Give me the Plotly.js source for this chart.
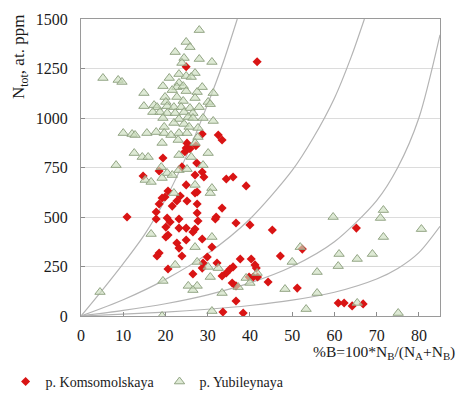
<!DOCTYPE html>
<html><head><meta charset="utf-8">
<script src="https://cdn.plot.ly/plotly-3.0.1.min.js"></script>
<style>html,body{margin:0;padding:0;background:#fff}#chart{width:460px;height:394px}</style>
</head><body><div id="chart"></div>
<script>
// Reference curves
const curve1B = [0, 5, 10, 15, 20, 25, 30, 33.5, 37];
const curve1N = [0, 130, 265, 410, 590, 810, 1070, 1270, 1500];
const curve2B = [0, 10, 20, 30, 40, 50, 55, 60, 64, 67.1];
const curve2N = [0, 82, 185, 315, 490, 735, 900, 1100, 1310, 1500];
const curve3B = [0, 10, 20, 30, 40, 50, 60, 70, 75, 80, 85];
const curve3N = [0, 28, 62, 107, 167, 250, 375, 583, 750, 1000, 1420];
const curve4B = [0, 10, 20, 30, 40, 50, 60, 70, 75, 80, 85];
const curve4N = [0, 9, 20, 34, 53, 80, 120, 187, 240, 320, 453];

// p. Komsomolskaya
const komB = [41.7,24.9,28.7,32.5,33.4,27.2,25.1,24.9,24.6,25.8,19.4,27.4,23.9,14.7,18.5,28.7,27.0,29.1,34.4,36.0,39.1,24.9,20.6,27.0,27.5,19.9,19.2,23.5,25.1,22.7,18.5,21.6,27.5,33.4,17.8,27.5,10.9,32.0,31.8,17.8,20.4,21.1,23.2,27.7,36.7,40.0,24.9,23.2,20.1,27.0,26.5,45.3,20.6,20.1,28.7,24.9,22.7,23.2,31.0,18.5,18.0,23.9,29.9,47.2,28.9,37.7,40.3,41.2,41.5,32.2,36.0,35.3,34.4,33.4,28.7,20.6,26.5,40.8,41.8,39.8,36.7,44.3,35.8,36.7,33.6,38.4,65.2,52.4,51.2,60.9,62.3,64.2,66.8];
const komN = [1284,1259,919,914,889,860,873,848,830,845,798,773,753,707,732,727,712,702,692,702,657,662,631,621,626,601,596,606,581,581,566,555,566,545,525,520,500,500,490,490,495,475,490,480,470,460,444,444,449,439,424,434,409,399,389,384,369,343,348,318,303,303,298,303,268,288,288,258,242,268,248,237,217,202,242,237,212,197,197,197,152,172,167,76,20,15,444,338,141,66,66,51,61];

// p. Yubileynaya
const yubB = [28,24.9,25.8,22.3,24.4,28,31,23.9,27,23.2,24.9,26.1,5.2,8.8,9.7,20.9,23.2,19.4,22.7,24.2,28.7,21.6,24.9,27.5,31.3,14.9,19.9,22.7,27,20.1,24.2,30.1,30.6,14.9,17.3,18,20.4,22,23.7,25.8,28,17,18.7,20.4,22.3,24.4,26.5,19.4,23.2,25.4,26.5,28.9,31.3,22,24.4,19.7,25.6,27.7,10,12.1,12.8,15.6,17.8,19.7,21.3,23.2,25.1,23,19.2,27.7,27,12.6,14.5,15.9,23.2,30.1,26.1,8.3,19,20.4,21.6,23.2,25.1,15.2,16.6,19.2,27,31,30.6,22,28.9,16.6,31,27,22.3,27.5,30.1,32.5,30.6,19.4,25.4,27.5,26.5,4.5,33.4,31,19.2,39.1,40,41.7,37.2,59.7,71.6,70.9,80.6,71.6,51.9,61.1,65.4,69,50,60.9,55.9,48.3,55.9,53.3,65.4,75.1];
const yubN = [1444,1384,1358,1333,1303,1298,1283,1278,1227,1222,1212,1207,1202,1192,1182,1202,1177,1161,1156,1161,1156,1141,1136,1131,1126,1126,1106,1106,1101,1081,1086,1081,1070,1060,1065,1055,1060,1055,1055,1050,1055,1030,1030,1025,1025,1030,1025,1000,995,1005,1000,1000,985,975,970,955,955,950,924,919,914,924,929,924,914,924,924,889,874,904,874,823,803,803,813,823,803,762,752,722,712,737,742,687,677,697,662,646,621,621,762,414,399,348,258,273,248,242,197,177,152,152,131,121,116,25,0,192,167,217,146,500,535,495,439,399,348,313,288,313,273,252,222,136,116,35,66,15];

const xTicks = [0,10,20,30,40,50,60,70,80];
const yTicks = [0,250,500,750,1000,1250,1500];

const serif = '"Liberation Serif", "Times New Roman", serif';
const curveLine = {color:'#b4b4b4', width:1.2, shape:'spline', smoothing:0.8};
const curves = [[curve1B,curve1N],[curve2B,curve2N],[curve3B,curve3N],[curve4B,curve4N]].map(c => ({
  x:c[0], y:c[1], mode:'lines', line:curveLine, showlegend:false, hoverinfo:'skip'
}));

const traces = curves.concat([
  {x:komB, y:komN, mode:'markers', name:'p. Komsomolskaya',
   marker:{symbol:'diamond', size:7, color:'#d91414', line:{width:0}}},
  {x:yubB, y:yubN, mode:'markers', name:'p. Yubileynaya',
   marker:{symbol:'triangle-up', size:9, color:'rgba(205,222,190,0.65)', line:{color:'#93a585', width:1}}}
]);

const layout = {
  width:460, height:394,
  margin:{l:81, r:20, t:19, b:78, autoexpand:false},
  paper_bgcolor:'#fff', plot_bgcolor:'#fff',
  font:{family:serif, color:'#1a1a1a'},
  xaxis:{range:[0,85], tickvals:xTicks, ticktext:xTicks.map(String), ticks:'inside', ticklen:4, tickcolor:'#8c8c8c',
         showline:true, linecolor:'#9a9a9a', linewidth:1, mirror:true, showgrid:false, zeroline:false,
         tickfont:{family:serif, size:16, color:'#1a1a1a'}, ticklabelstandoff:5},
  yaxis:{range:[0,1500], tickvals:yTicks, ticktext:yTicks.map(String), ticks:'inside', ticklen:4, tickcolor:'#8c8c8c',
         showline:true, linecolor:'#9a9a9a', linewidth:1, mirror:true, showgrid:true, gridcolor:'#dcdcdc', zeroline:false,
         tickfont:{family:serif, size:16, color:'#1a1a1a'}, ticklabelstandoff:9},
  showlegend:true,
  legend:{orientation:'h', x:-0.21, xanchor:'left', y:-0.222, yanchor:'middle',
          font:{family:serif, size:14, color:'#1a1a1a'}, bgcolor:'rgba(0,0,0,0)', itemwidth:30, tracegroupgap:0},
  annotations:[
    {text:'N<sub>tot</sub>, at. ppm', xref:'paper', yref:'paper', x:-0.17, y:0.872, textangle:-90,
     showarrow:false, xanchor:'center', yanchor:'middle', font:{family:serif, size:17, color:'#1a1a1a'}},
    {text:'%B=100*N<sub>B</sub>/(N<sub>A</sub>+N<sub>B</sub>)', xref:'paper', yref:'paper', x:1.047, y:-0.122,
     showarrow:false, xanchor:'right', yanchor:'middle', font:{family:serif, size:15.5, color:'#1a1a1a'}}
  ]
};

Plotly.newPlot('chart', traces, layout, {staticPlot:true, displayModeBar:false});
</script></body></html>
